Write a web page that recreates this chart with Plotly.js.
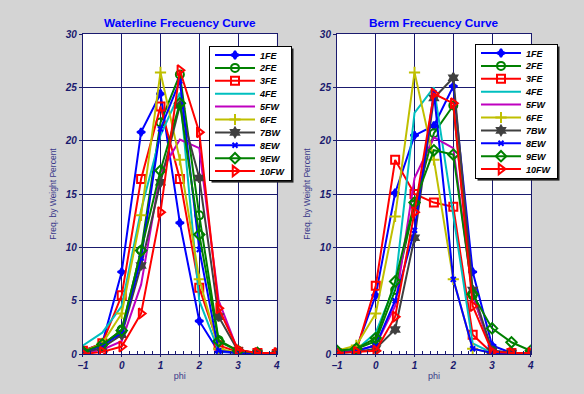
<!DOCTYPE html>
<html><head><meta charset="utf-8">
<script src="https://cdn.plot.ly/plotly-3.0.1.min.js"></script>
<style>html,body{margin:0;padding:0;background:#d4d4d4;}#chart{width:584px;height:394px;}</style>
</head><body><div id="chart"></div>
<script>
const phi = [-1,-0.5,0,0.5,1,1.5,2,2.5,3,3.5,4];
const seriesNames = ["1FE","2FE","3FE","4FE","5FW","6FE","7BW","8EW","9EW","10FW"];
const xTicks = [-1,0,1,2,3,4];
const yTicks = [0,5,10,15,20,25,30];

const wl1FE = [0.3,1.0,7.7,20.8,24.4,12.3,3.1,0.2,0.1,0.0,0.0];
const wl2FE = [0.2,0.8,2.3,9.7,21.7,26.2,13.0,1.3,0.3,0.1,0.0];
const wl3FE = [0.3,1.0,5.5,16.4,23.2,16.4,6.2,0.8,0.2,0.1,0.0];
const wl4FE = [0.8,2.0,4.5,13.5,20.5,24.5,5.0,0.3,0.1,0.0,0.0];
const wl5FW = [0.1,0.4,1.2,6.5,17.0,20.1,19.3,5.0,0.3,0.1,0.0];
const wl6FE = [0.2,1.0,3.8,13.0,26.4,18.2,7.0,0.5,0.1,0.0,0.0];
const wl7BW = [0.1,0.6,1.8,8.3,16.1,23.3,16.5,3.5,0.3,0.1,0.0];
const wl8EW = [0.2,0.8,2.0,9.0,21.1,25.6,9.8,0.3,0.1,0.0,0.0];
const wl9EW = [0.2,0.9,2.2,9.7,17.2,23.5,11.2,1.2,0.3,0.1,0.0];
const wl10FW = [0.0,0.2,0.7,3.8,13.3,26.6,20.8,4.3,0.4,0.1,0.1];

const bm1FE = [0.1,0.5,5.5,15.1,20.5,21.4,25.1,7.7,0.8,0.1,0.0];
const bm2FE = [0.2,0.5,1.2,6.0,14.0,20.7,23.3,5.5,0.3,0.1,0.0];
const bm3FE = [0.1,0.3,6.4,18.2,15.0,14.2,13.8,1.8,0.1,0.1,0.0];
const bm4FE = [0.1,0.4,2.0,6.5,22.6,25.0,13.0,1.0,0.1,0.0,0.0];
const bm5FW = [0.1,0.3,0.8,4.5,16.5,20.3,19.3,5.5,0.3,0.1,0.0];
const bm6FE = [0.3,0.8,3.8,12.9,26.4,18.2,7.0,0.5,0.1,0.0,0.0];
const bm7BW = [0.1,0.2,0.5,2.3,10.9,24.0,25.9,6.0,0.3,0.1,0.0];
const bm8EW = [0.1,0.3,0.8,5.0,11.6,24.5,7.0,0.5,0.1,0.0,0.0];
const bm9EW = [0.3,0.5,1.5,6.8,14.2,19.1,18.7,5.6,2.4,1.1,0.3];
const bm10FW = [0.1,0.2,0.3,3.5,13.3,24.4,23.5,4.5,0.2,0.1,0.1];

const wlData = [wl1FE,wl2FE,wl3FE,wl4FE,wl5FW,wl6FE,wl7BW,wl8EW,wl9EW,wl10FW];
const bmData = [bm1FE,bm2FE,bm3FE,bm4FE,bm5FW,bm6FE,bm7BW,bm8EW,bm9EW,bm10FW];

const colors = ["#0000ff","#008000","#ff0000","#00bfbf","#bf00bf","#bfbf00","#404040","#0000ff","#008000","#ff0000"];
const symbols = ["star-diamond","circle-open","square-open",null,null,"cross-thin-open","hexagram","x-thin-open","diamond-open","triangle-right-open"];
const sizes = [6,8,8,0,0,8,7,5,8,9];

const traces = [];
function addSet(data, xa, ya, leg){
  data.forEach((vals,i)=>{
    const t = {x: phi, y: vals, xaxis: xa, yaxis: ya, name: seriesNames[i], legend: leg,
      type:'scatter', line:{color:colors[i], width:2}};
    if (symbols[i]) { t.mode='lines+markers'; t.marker={symbol:symbols[i], size:sizes[i], color:colors[i], line:{color:colors[i], width:2}}; }
    else t.mode='lines';
    traces.push(t);
  });
}
addSet(wlData,'x','y','legend');
addSet(bmData,'x2','y2','legend2');

const navy = '#1a1a6e';
const tickFont = {family:'Liberation Sans, Arial', size:10, color:navy, weight:'bold', style:'italic'};
function xax(dom){return {domain:dom, range:[-1,4], tickvals:xTicks, ticks:'outside', ticklen:2, tickcolor:navy,
  showgrid:true, gridcolor:navy, gridwidth:1, zeroline:false, showline:true, linecolor:navy, linewidth:1, mirror:true,
  tickfont:tickFont, title:{text:'phi', font:{family:'Liberation Sans, Arial', size:9, color:'#3a3a8a'}, standoff:2},
  minor:{dtick:0.2, ticks:'inside', ticklen:3, tickcolor:navy, showgrid:false}};}
function yax(anchorX){return {domain:[0.1015,0.9137], range:[0,30], tickvals:yTicks, ticks:'outside', ticklen:3, tickcolor:navy,
  showgrid:true, gridcolor:navy, gridwidth:1, zeroline:false, showline:true, linecolor:navy, linewidth:1, mirror:true,
  tickfont:tickFont, anchor:anchorX,
  title:{text:'Freq. by Weight Percent', font:{family:'Liberation Sans, Arial', size:8.5, color:'#3a3a8a'}, standoff:6}};}

const legFont = {family:'Liberation Sans, Arial', size:9, color:'#000', weight:'bold', style:'italic'};
const layout = {
  width:584, height:394, paper_bgcolor:'#d4d4d4', plot_bgcolor:'#ffffff',
  margin:{l:0,r:0,t:0,b:0}, showlegend:true,
  xaxis: Object.assign(xax([0.142,0.474]),{anchor:'y'}),
  yaxis: yax('x'),
  xaxis2: Object.assign(xax([0.577,0.909]),{anchor:'y2'}),
  yaxis2: yax('x2'),
  legend:{x:209/584, y:1-46/394, xanchor:'left', yanchor:'top', bgcolor:'#ffffff', bordercolor:'#000', borderwidth:1, font:legFont, tracegroupgap:0, itemwidth:40},
  legend2:{x:475/584, y:1-44/394, xanchor:'left', yanchor:'top', bgcolor:'#ffffff', bordercolor:'#000', borderwidth:1, font:legFont, tracegroupgap:0, itemwidth:40},
  annotations:[
    {text:'Waterline Frecuency Curve', xref:'paper', yref:'paper', x:180/584, y:1-23/394, showarrow:false, xanchor:'center', yanchor:'middle',
     font:{family:'Liberation Sans, Arial', size:11.8, color:'#0000ff', weight:'bold'}},
    {text:'Berm Frecuency Curve', xref:'paper', yref:'paper', x:434/584, y:1-23/394, showarrow:false, xanchor:'center', yanchor:'middle',
     font:{family:'Liberation Sans, Arial', size:11.8, color:'#0000ff', weight:'bold'}}
  ]
};
Plotly.newPlot('chart', traces, layout, {displayModeBar:false, staticPlot:true}).then(gd=>{
  const step = 12.9, n = seriesNames.length;
  gd.querySelectorAll('.infolayer > g').forEach(lg=>{
    const bg = lg.querySelector('rect.bg');
    if (!bg) return;
    const groups = lg.querySelectorAll('g.groups');
    groups.forEach(g=>g.setAttribute('transform','translate(0,0)'));
    const items = lg.querySelectorAll('g.traces');
    if (!items.length) return;
    items.forEach((it,i)=>{
      const m = /translate\(([-\d.]+)[ ,]+([-\d.]+)\)/.exec(it.getAttribute('transform')||'');
      const x0 = m ? parseFloat(m[1]) : 0;
      it.setAttribute('transform',`translate(${x0},${9 + i*step})`);
    });
    const h = 9*2 + (n-1)*step;
    bg.setAttribute('height', h);
    const sb = lg.querySelector('g.scrollbox');
    if (sb) sb.removeAttribute('clip-path');
    const w = parseFloat(bg.getAttribute('width'));
    const sh = document.createElementNS('http://www.w3.org/2000/svg','rect');
    sh.setAttribute('x', (parseFloat(bg.getAttribute('x'))||0)+2);
    sh.setAttribute('y', (parseFloat(bg.getAttribute('y'))||0)+2);
    sh.setAttribute('width', w); sh.setAttribute('height', h);
    sh.setAttribute('fill','#222');
    bg.parentNode.insertBefore(sh, bg);
  });
});
</script></body></html>
